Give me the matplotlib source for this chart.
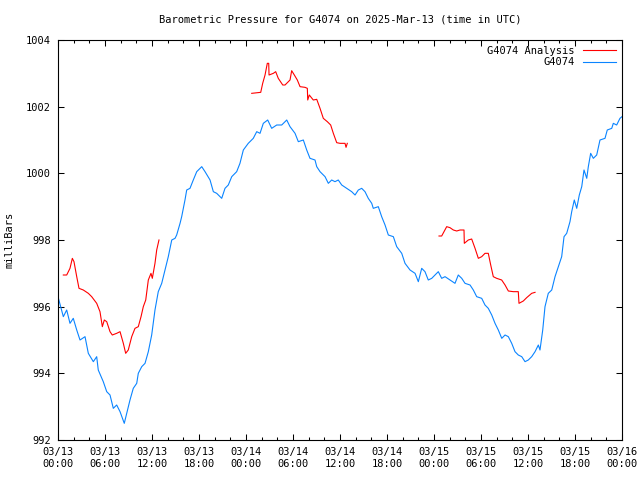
import numpy as np
import matplotlib
matplotlib.use("Agg")
import matplotlib.pyplot as plt
import matplotlib.dates as mdates

# hours since 2025-03-13 00:00 UTC
obs_hours = [0, 0.68, 1.11, 1.53, 1.95, 2.39, 2.81, 3.45, 3.87, 4.51, 4.94, 5.14, 5.78, 6.22, 6.64,
             7.06, 7.49, 7.92, 8.46, 8.77, 9.19, 9.61, 10.05, 10.25, 10.69, 11.11, 11.53, 11.96,
             12.38, 12.8, 13.24, 13.66, 14.08, 14.52, 14.94, 15.15, 15.58, 15.79, 16.21, 16.43,
             16.85, 17.27, 17.71, 18.35, 18.77, 19.41, 19.83, 20.26, 20.9, 21.32, 21.74, 22.18,
             22.81, 23.23, 23.66, 24.29, 24.93, 25.37, 25.79, 26.21, 26.77, 27.28, 27.92, 28.56,
             29.2, 29.62, 30.26, 30.68, 31.32, 31.75, 32.17, 32.81, 33.03, 33.45, 34.09, 34.51,
             34.94, 35.36, 35.78, 36.22, 36.86, 37.49, 37.92, 38.34, 38.77, 39.19, 39.61, 40.05,
             40.25, 40.89, 41.32, 41.75, 42.17, 42.81, 43.24, 43.88, 44.3, 44.94, 45.58, 46.0,
             46.43, 46.85, 47.27, 47.71, 48.13, 48.55, 48.98, 49.41, 50.04, 50.68, 51.1, 51.54,
             51.96, 52.6, 53.02, 53.45, 54.09, 54.51, 54.93, 55.37, 55.79, 56.21, 56.65, 57.07,
             57.49, 57.92, 58.34, 58.76, 59.2, 59.62, 60.04, 60.47, 60.9, 61.32, 61.53, 61.88,
             62.17, 62.59, 63.03, 63.45, 63.87, 64.3, 64.6, 64.94, 65.36, 65.58, 65.91, 66.22,
             66.55, 66.86, 67.15, 67.5, 67.7, 68.0, 68.34, 68.77, 69.19, 69.83, 70.12, 70.69,
             70.89, 71.32, 71.74, 72.0]
obs_mb = [996.3, 995.7, 995.9, 995.5, 995.65, 995.3, 995.0, 995.1, 994.6, 994.35, 994.5, 994.1,
          993.75, 993.45, 993.35, 992.95, 993.05, 992.85, 992.5, 992.8, 993.2, 993.55, 993.7,
          994.0, 994.2, 994.3, 994.65, 995.15, 995.9, 996.45, 996.7, 997.1, 997.5, 998.0, 998.05,
          998.15, 998.5, 998.7, 999.2, 999.5, 999.55, 999.8, 1000.05, 1000.2, 1000.05, 999.8,
          999.45, 999.4, 999.25, 999.55, 999.65, 999.9, 1000.05, 1000.3, 1000.7, 1000.9, 1001.05,
          1001.25, 1001.2, 1001.5, 1001.6, 1001.35, 1001.45, 1001.45, 1001.6, 1001.4, 1001.2,
          1000.95, 1001.0, 1000.7, 1000.45, 1000.4, 1000.2, 1000.05, 999.9, 999.7, 999.8, 999.75,
          999.8, 999.65, 999.55, 999.45, 999.35, 999.5, 999.55, 999.45, 999.25, 999.1, 998.95,
          999.0, 998.7, 998.45, 998.15, 998.1, 997.8, 997.6, 997.3, 997.1, 997.0, 996.75, 997.15,
          997.05, 996.8, 996.85, 996.95, 997.05, 996.85, 996.9, 996.8, 996.7, 996.95, 996.85,
          996.7, 996.65, 996.5, 996.3, 996.25, 996.05, 995.95, 995.75, 995.5, 995.3, 995.05,
          995.15, 995.1, 994.9, 994.65, 994.55, 994.5, 994.35, 994.4, 994.5, 994.65, 994.85,
          994.7, 995.3, 996.0, 996.4, 996.5, 996.9, 997.2, 997.5, 998.1, 998.2, 998.55, 998.85,
          999.2, 998.95, 999.35, 999.6, 1000.1, 999.85, 1000.2, 1000.6, 1000.45, 1000.55, 1001.0,
          1001.05, 1001.3, 1001.35, 1001.5, 1001.45, 1001.65, 1001.7]

ana_hours = [0.68, 1.11, 1.53, 1.83, 2.04, 2.39, 2.68, 3.23, 3.87, 4.3, 4.94, 5.36, 5.66, 5.91,
             6.22, 6.64, 6.93, 7.49, 7.92, 8.34, 8.64, 8.97, 9.41, 9.83, 10.25, 10.6, 10.89,
             11.2, 11.53, 11.87, 12.04, 12.38, 12.6, 12.89,
             18.0,
             24.73, 25.88, 26.13, 26.43, 26.72, 26.9, 26.94, 27.49, 27.79, 28.12, 28.69, 28.98,
             29.62, 29.83, 30.17, 30.55, 30.9, 31.53, 31.83, 31.88, 32.08, 32.59, 33.03, 33.45,
             33.87, 34.38, 34.81, 35.15, 35.58, 36.0, 36.64, 36.77, 36.93,
             42.0,
             48.64, 48.98, 49.62, 50.04, 50.47, 50.9, 51.32, 51.83, 51.87, 52.38, 52.81, 53.24,
             53.66, 54.09, 54.51, 54.93, 55.24, 55.57, 56.0, 56.64, 57.07, 57.49, 58.13, 58.76,
             58.85, 59.4, 59.83, 60.47, 60.9]
ana_mb = [996.95, 996.95, 997.15, 997.45, 997.35, 996.9, 996.55, 996.5, 996.4, 996.3, 996.1,
          995.85, 995.4, 995.6, 995.55, 995.25, 995.15, 995.2, 995.25, 994.9, 994.6, 994.7,
          995.1, 995.35, 995.4, 995.7, 996.0, 996.2, 996.8, 997.0, 996.85, 997.3, 997.7, 998.0,
          np.nan,
          1002.4, 1002.43, 1002.7, 1002.95, 1003.3, 1003.3, 1002.95, 1003.0, 1003.05, 1002.85,
          1002.65, 1002.65, 1002.8, 1003.08, 1002.95, 1002.8, 1002.6, 1002.58, 1002.55, 1002.2,
          1002.35, 1002.2, 1002.22, 1001.95, 1001.65, 1001.55, 1001.45, 1001.2, 1000.92, 1000.9,
          1000.9, 1000.78, 1000.9,
          np.nan,
          998.12, 998.12, 998.4, 998.37, 998.3, 998.27, 998.3, 998.3, 997.9, 998.0, 998.03,
          997.75, 997.45, 997.5, 997.6, 997.6, 997.25, 996.9, 996.85, 996.8, 996.65, 996.47,
          996.45, 996.45, 996.1, 996.17, 996.27, 996.4, 996.43]

base = np.datetime64("2025-03-13T00:00")
def to_time(hours):
    return base + (np.array(hours) * 3600).astype("timedelta64[s]")

plt.rcParams["font.family"] = "DejaVu Sans Mono"
fig = plt.figure(figsize=(6.4, 4.8), dpi=100)
ax = fig.add_axes([58/640, 40/480, 564/640, 400/480])

ax.plot(to_time(ana_hours), ana_mb, color="#ff0000", lw=0.8, label="G4074 Analysis")
ax.plot(to_time(obs_hours), obs_mb, color="#0a84ff", lw=0.8, label="G4074")

ax.set_xlim(to_time([0])[0], to_time([72])[0])
ax.set_ylim(992, 1004)
ax.set_yticks(np.arange(992, 1005, 2))
ax.xaxis.set_major_locator(mdates.HourLocator(byhour=[0, 6, 12, 18]))
ax.xaxis.set_minor_locator(mdates.HourLocator(byhour=range(0, 24, 2)))
ax.xaxis.set_major_formatter(mdates.DateFormatter("%m/%d\n%H:%M"))
ax.tick_params(which="both", direction="in", top=True, right=True, labelsize=7.5, color="black")
ax.tick_params(which="major", length=4, width=0.75, pad=5)
ax.tick_params(which="minor", length=2.5, width=0.75)
for s in ax.spines.values():
    s.set_linewidth(0.8)

ax.set_title("Barometric Pressure for G4074 on 2025-Mar-13 (time in UTC)", fontsize=7.5, pad=12.5)
ax.set_ylabel("milliBars", fontsize=7.5, labelpad=8)

ax.legend(loc="upper right", frameon=False, markerfirst=False, fontsize=7.5,
          handlelength=3.2, labelspacing=0.15, borderaxespad=0.15, handletextpad=0.8)

fig.savefig("out.png", dpi=100)
